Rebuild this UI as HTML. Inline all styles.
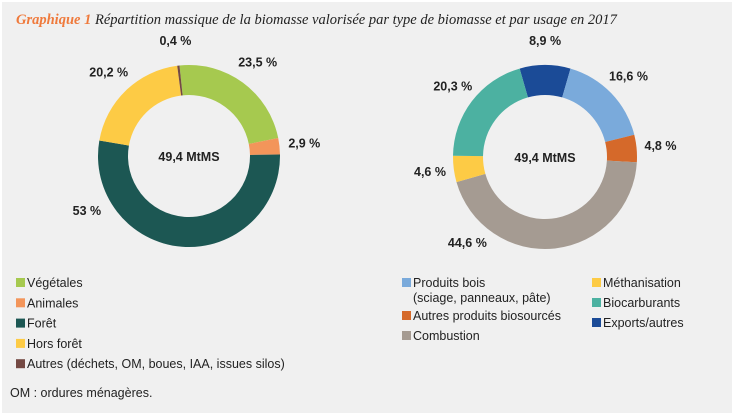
<!DOCTYPE html>
<html><head><meta charset="utf-8"><style>
body{margin:0;width:734px;height:415px;background:#fff;overflow:hidden}
#wrap{position:absolute;left:2px;top:2px;width:730px;height:411px;background:#f0f0f0}
svg{position:absolute;left:0;top:0}
.lab{font-family:"Liberation Sans",sans-serif;font-size:12.5px;font-weight:bold;fill:#222}
.leg{font-family:"Liberation Sans",sans-serif;font-size:12.5px;fill:#222}
</style></head><body>
<div id="wrap"></div>
<svg id="chart" width="734" height="415">
<text x="16" y="24" font-family="Liberation Serif,serif" font-style="italic" font-size="14.5" fill="#222"><tspan fill="#ef7a3c" font-weight="bold">Graphique 1</tspan> Répartition massique de la biomasse valorisée par type de biomasse et par usage en 2017</text>
<text x="10" y="397" class="leg" font-size="10.5">OM : ordures ménagères.</text>
</svg>
<script>
const typeCats=["Végétales","Animales","Forêt","Hors forêt","Autres (déchets, OM, boues, IAA, issues silos)"];
const typeVals=[23.5,2.9,53,20.2,0.4];
const typeLabels=["23,5 %","2,9 %","53 %","20,2 %","0,4 %"];
const usageCats=["Exports/autres","Produits bois","Autres produits biosourcés","Combustion","Méthanisation","Biocarburants"];
const usageVals=[8.9,16.6,4.8,44.6,4.6,20.3];
const usageLabels=["8,9 %","16,6 %","4,8 %","44,6 %","4,6 %","20,3 %"];
const typeColors=["#a6c94f","#f3955a","#1c5753","#fdcb45","#744943"];
const usageColors=["#1b4b97","#7aaadb","#d5692a","#a59b92","#fdcb45","#4cb1a1"];
const svg=document.getElementById('chart');
const NS="http://www.w3.org/2000/svg";
function pt(cx,cy,r,a){const t=(a-90)*Math.PI/180;return [cx+r*Math.cos(t),cy+r*Math.sin(t)];}
function donut(cx,cy,R,r,start,vals,colors,labels,labR,name){
  const tot=vals.reduce((a,b)=>a+b,0);let a=start;
  vals.forEach((v,i)=>{
    const da=v/tot*360,b=a+da,lg=da>180?1:0;
    const p1=pt(cx,cy,R,a),p2=pt(cx,cy,R,b),p3=pt(cx,cy,r,b),p4=pt(cx,cy,r,a);
    const p=document.createElementNS(NS,'path');
    p.setAttribute('d',`M${p1}A${R},${R} 0 ${lg} 1 ${p2}L${p3}A${r},${r} 0 ${lg} 0 ${p4}Z`);
    p.setAttribute('fill',colors[i]);
    
    
    svg.appendChild(p);
    const frac=da>140?0.8:0.5;
    const m=a+da*frac,lp=pt(cx,cy,labR,m);
    const t=document.createElementNS(NS,'text');
    t.setAttribute('x',lp[0]);t.setAttribute('y',lp[1]+4);
    t.setAttribute('text-anchor','middle');t.setAttribute('class','lab');
    t.textContent=labels[i];
    
    
    svg.appendChild(t);
    a=b;
  });
  const c=document.createElementNS(NS,'text');
  c.setAttribute('x',cx);c.setAttribute('y',cy+5);c.setAttribute('text-anchor','middle');c.setAttribute('class','lab');c.setAttribute('font-size','13.5');
  c.textContent="49,4 MtMS";
  
  
  svg.appendChild(c);
}
donut(189,156,91,61,-6,typeVals,typeColors,typeLabels,116,'type-donut');
donut(545,157,92,62,-16,usageVals,usageColors,usageLabels,116,'usage-donut');
function legend(x,y,color,lines,name){
  const g=document.createElementNS(NS,'g');
  
  
  const s=document.createElementNS(NS,'rect');
  s.setAttribute('x',x);s.setAttribute('y',y-5);s.setAttribute('width',9);s.setAttribute('height',9);s.setAttribute('fill',color);
  g.appendChild(s);
  lines.forEach((l,k)=>{const t=document.createElementNS(NS,'text');t.setAttribute('x',x+11);t.setAttribute('y',y+4+k*15);t.setAttribute('class','leg');t.textContent=l;g.appendChild(t);});
  svg.appendChild(g);
}
typeCats.forEach((c,i)=>legend(16,283+i*20.3,typeColors[i],[c],'type-legend-entry-'+i));
legend(402,283,usageColors[1],["Produits bois","(sciage, panneaux, pâte)"],'usage-legend-produits-bois');
legend(402,316,usageColors[2],[usageCats[2]],'usage-legend-autres-produits');
legend(402,336,usageColors[3],[usageCats[3]],'usage-legend-combustion');
legend(592,283,usageColors[4],[usageCats[4]],'usage-legend-methanisation');
legend(592,303,usageColors[5],[usageCats[5]],'usage-legend-biocarburants');
legend(592,323,usageColors[0],[usageCats[0]],'usage-legend-exports');
</script>
</body></html>
